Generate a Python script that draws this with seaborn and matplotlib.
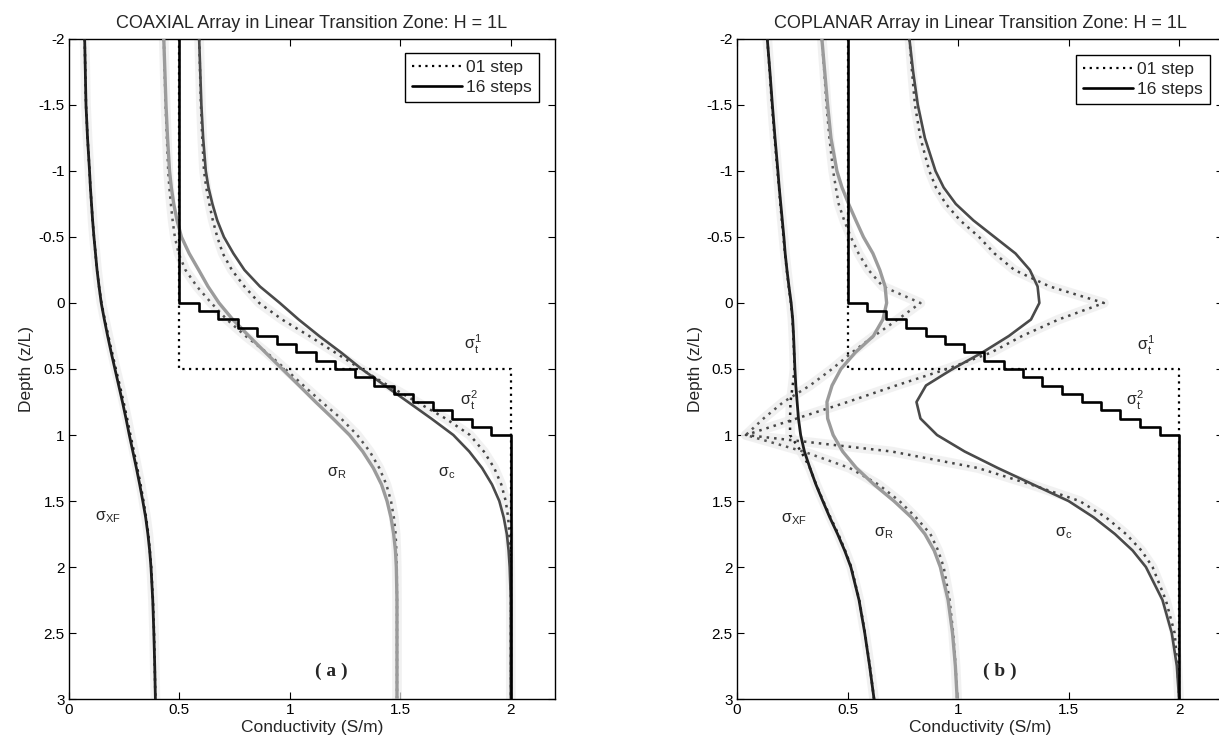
import numpy as np
import matplotlib
matplotlib.use("Agg")
import matplotlib.pyplot as plt
import seaborn as sns

# ---------------- data ----------------
depth = [-2.0, -1.75, -1.5, -1.25, -1.0, -0.875, -0.75, -0.625, -0.5, -0.375,
         -0.25, -0.125, 0.0, 0.125, 0.25, 0.375, 0.5, 0.625, 0.75, 0.875,
         1.0, 1.125, 1.25, 1.375, 1.5, 1.625, 1.75, 1.875, 2.0, 2.25,
         2.5, 2.75, 3.0]

# COAXIAL array
coax_xf_16 = [0.072, 0.075, 0.078, 0.085, 0.094, 0.098, 0.103, 0.108, 0.114, 0.121,
              0.128, 0.137, 0.147, 0.161, 0.176, 0.192, 0.209, 0.226, 0.243, 0.259,
              0.274, 0.290, 0.306, 0.321, 0.335, 0.348, 0.358, 0.366, 0.372, 0.380,
              0.385, 0.389, 0.392]
coax_xf_01 = [0.072, 0.075, 0.078, 0.085, 0.094, 0.098, 0.103, 0.108, 0.114, 0.121,
              0.128, 0.137, 0.148, 0.163, 0.179, 0.196, 0.213, 0.231, 0.248, 0.264,
              0.279, 0.295, 0.310, 0.325, 0.338, 0.350, 0.360, 0.367, 0.373, 0.381,
              0.386, 0.389, 0.392]
coax_r_16 = [0.430, 0.435, 0.440, 0.447, 0.456, 0.464, 0.475, 0.490, 0.510, 0.545,
             0.588, 0.630, 0.680, 0.742, 0.815, 0.890, 0.966, 1.042, 1.117, 1.195,
             1.270, 1.330, 1.378, 1.415, 1.440, 1.458, 1.470, 1.478, 1.482, 1.485,
             1.485, 1.485, 1.485]
coax_r_01 = [0.430, 0.434, 0.438, 0.444, 0.450, 0.455, 0.462, 0.470, 0.480, 0.497,
             0.528, 0.580, 0.645, 0.715, 0.800, 0.895, 0.980, 1.062, 1.145, 1.232,
             1.305, 1.362, 1.405, 1.437, 1.458, 1.471, 1.479, 1.482, 1.484, 1.485,
             1.485, 1.485, 1.485]
coax_c_16 = [0.590, 0.595, 0.600, 0.608, 0.620, 0.632, 0.650, 0.672, 0.702, 0.745,
             0.795, 0.865, 0.955, 1.040, 1.133, 1.232, 1.325, 1.430, 1.535, 1.640,
             1.740, 1.812, 1.870, 1.915, 1.948, 1.968, 1.982, 1.990, 1.995, 2.000,
             2.000, 2.000, 2.000]
coax_c_01 = [0.590, 0.594, 0.598, 0.604, 0.612, 0.622, 0.636, 0.652, 0.672, 0.697,
             0.738, 0.795, 0.862, 0.965, 1.088, 1.205, 1.322, 1.445, 1.575, 1.705,
             1.815, 1.878, 1.925, 1.957, 1.977, 1.988, 1.993, 1.996, 1.998, 2.000,
             2.000, 2.000, 2.000]

# COPLANAR array
copl_xf_16 = [0.137, 0.149, 0.160, 0.172, 0.185, 0.191, 0.198, 0.205, 0.212, 0.218,
              0.226, 0.235, 0.245, 0.252, 0.256, 0.259, 0.262, 0.266, 0.272, 0.278,
              0.288, 0.305, 0.330, 0.357, 0.388, 0.420, 0.455, 0.487, 0.515, 0.552,
              0.578, 0.600, 0.620]
copl_xf_01 = [0.137, 0.148, 0.158, 0.170, 0.183, 0.190, 0.196, 0.203, 0.210, 0.217,
              0.225, 0.234, 0.244, 0.251, 0.255, 0.258, 0.260, 0.252, 0.242, 0.240,
              0.240, 0.290, 0.330, 0.358, 0.390, 0.423, 0.458, 0.489, 0.517, 0.553,
              0.579, 0.601, 0.620]
copl_r_16 = [0.384, 0.397, 0.410, 0.425, 0.452, 0.475, 0.505, 0.538, 0.572, 0.615,
             0.646, 0.670, 0.677, 0.660, 0.617, 0.535, 0.470, 0.430, 0.407, 0.410,
             0.435, 0.478, 0.540, 0.620, 0.710, 0.790, 0.850, 0.892, 0.920, 0.955,
             0.975, 0.988, 0.996]
copl_r_01 = [0.384, 0.395, 0.405, 0.418, 0.435, 0.447, 0.460, 0.485, 0.515, 0.550,
             0.595, 0.660, 0.830, 0.727, 0.620, 0.520, 0.430, 0.330, 0.210, 0.120,
             0.040, 0.300, 0.510, 0.640, 0.735, 0.810, 0.875, 0.910, 0.935, 0.962,
             0.978, 0.989, 0.996]
copl_c_16 = [0.780, 0.797, 0.818, 0.850, 0.898, 0.935, 0.990, 1.070, 1.165, 1.260,
             1.325, 1.360, 1.368, 1.330, 1.230, 1.110, 0.975, 0.855, 0.812, 0.830,
             0.905, 1.030, 1.180, 1.340, 1.500, 1.615, 1.710, 1.790, 1.850, 1.925,
             1.967, 1.990, 2.000]
copl_c_01 = [0.780, 0.792, 0.805, 0.830, 0.870, 0.900, 0.945, 1.010, 1.095, 1.165,
             1.255, 1.415, 1.660, 1.455, 1.290, 1.150, 0.950, 0.720, 0.500, 0.270,
             0.040, 0.700, 1.090, 1.330, 1.550, 1.670, 1.760, 1.830, 1.880, 1.940,
             1.980, 1.993, 2.000]

# conductivity models (layer boundaries in z/L and layer conductivities)
bounds_16 = [-2.0, 0.0, 0.0625, 0.125, 0.1875, 0.25, 0.3125, 0.375, 0.4375, 0.5,
             0.5625, 0.625, 0.6875, 0.75, 0.8125, 0.875, 0.9375, 1.0, 3.0]
sigma_16 = [0.5, 0.588, 0.676, 0.765, 0.853, 0.941, 1.029, 1.118, 1.206, 1.294,
            1.382, 1.471, 1.559, 1.647, 1.735, 1.824, 1.912, 2.0]
bounds_01 = [-2.0, 0.5, 3.0]
sigma_01 = [0.5, 2.0]

y_ticks = [-2, -1.5, -1, -0.5, 0, 0.5, 1, 1.5, 2, 2.5, 3]
y_tick_labels = ['-2', '-1.5', '-1', '-0.5', '0', '0.5', '1', '1.5', '2', '2.5', '3']
x_ticks = [0, 0.5, 1, 1.5, 2]
x_tick_labels = ['0', '0.5', '1', '1.5', '2']

titles = ['COAXIAL Array in Linear Transition Zone: H = 1L',
          'COPLANAR Array in Linear Transition Zone: H = 1L']
legend_labels = ['01 step', '16 steps']
panel_tags = ['( a )', '( b )']

# ---------------- style ----------------
sns.set_style("ticks")
plt.rcParams['font.family'] = ['Liberation Sans', 'DejaVu Sans']
plt.rcParams['mathtext.fontset'] = 'custom'
plt.rcParams['mathtext.rm'] = 'Liberation Sans'
plt.rcParams['mathtext.it'] = 'Liberation Sans'
plt.rcParams['mathtext.default'] = 'regular'

fig = plt.figure(figsize=(12.19, 7.45), dpi=100)
ax_l = fig.add_axes([0.0564, 0.0617, 0.3989, 0.886])
ax_r = fig.add_axes([0.6046, 0.0617, 0.3989, 0.886])

DOT = (0, (1, 2))
C_XF, C_R, C_C = '#1e1e1e', '#9b9b9b', '#4a4a4a'


def stair_xy(bounds, sig):
    x = np.repeat(np.asarray(sig, float), 2)
    y = np.repeat(np.asarray(bounds, float), 2)[1:-1]
    return x, y


def line(ax, x, y, **kw):
    sns.lineplot(x=np.asarray(x, float), y=np.asarray(y, float), ax=ax,
                 sort=False, estimator=None, errorbar=None, **kw)


def panel(ax, curves16, curves01, title, tag, labels, legend_anchor):
    z = np.asarray(depth)
    # faint halo behind dotted curves (as in the scanned figure)
    for c in curves01:
        line(ax, c, z, color='#ececec', lw=7, zorder=1, alpha=0.7)
    # 01 step model and its responses (dotted)
    sx, sy = stair_xy(bounds_01, sigma_01)
    line(ax, sx, sy, color='black', lw=1.6, linestyle=DOT, zorder=3,
         label=legend_labels[0])
    for c, col in zip(curves01, ['#222222', '#555555', '#444444']):
        line(ax, c, z, color=col, lw=1.8, linestyle=DOT, zorder=3)
    # 16 steps responses (solid)
    for c, col, lw in zip(curves16, [C_XF, C_R, C_C], [2.0, 2.4, 1.9]):
        line(ax, c, z, color=col, lw=lw, zorder=4)
    sx, sy = stair_xy(bounds_16, sigma_16)
    line(ax, sx, sy, color='black', lw=1.9, zorder=5, label=legend_labels[1])

    ax.set_xlim(0, 2.2)
    ax.set_ylim(3, -2)
    ax.set_yticks(y_ticks)
    ax.set_yticklabels(y_tick_labels)
    ax.set_xticks(x_ticks)
    ax.set_xticklabels(x_tick_labels)
    ax.tick_params(direction='in', length=5, width=0.8, top=True, right=True,
                   labelsize=11, colors='black', pad=3)
    for s in ax.spines.values():
        s.set_visible(True)
        s.set_linewidth(1.0)
        s.set_color('black')
    ax.set_xlabel('Conductivity (S/m)', fontsize=12.5, labelpad=2)
    ax.set_ylabel('Depth (z/L)', fontsize=12.5, labelpad=3)
    ax.set_title(title, fontsize=13, pad=8)

    for (txt, xx, yy) in labels:
        ax.text(xx, yy, txt, fontsize=11.5, ha='left', va='center', zorder=6)
    ax.text(1.19, 2.79, tag, fontsize=14, fontweight='bold', ha='center', va='center',
            family=['Liberation Serif', 'DejaVu Serif'], zorder=6)

    ax.legend(loc='upper right', bbox_to_anchor=legend_anchor, borderaxespad=0,
              fontsize=12.5, frameon=True, fancybox=False, edgecolor='black',
              framealpha=1, handlelength=2.9, handletextpad=0.25,
              labelspacing=0.3, borderpad=0.4)
    ax.get_legend().get_frame().set_linewidth(1.0)


labels_l = [(r'$\sigma_{XF}$', 0.12, 1.62), (r'$\sigma_R$', 1.17, 1.29),
            (r'$\sigma_c$', 1.67, 1.29), (r'$\sigma_t^1$', 1.79, 0.31),
            (r'$\sigma_t^2$', 1.77, 0.74)]
labels_r = [(r'$\sigma_{XF}$', 0.20, 1.64), (r'$\sigma_R$', 0.62, 1.74),
            (r'$\sigma_c$', 1.44, 1.74), (r'$\sigma_t^1$', 1.81, 0.32),
            (r'$\sigma_t^2$', 1.76, 0.74)]

panel(ax_l, [coax_xf_16, coax_r_16, coax_c_16], [coax_xf_01, coax_r_01, coax_c_01],
      titles[0], panel_tags[0], labels_l, (0.967, 0.979))
panel(ax_r, [copl_xf_16, copl_r_16, copl_c_16], [copl_xf_01, copl_r_01, copl_c_01],
      titles[1], panel_tags[1], labels_r, (0.973, 0.976))

fig.savefig('out.png', dpi=100, facecolor='white')
